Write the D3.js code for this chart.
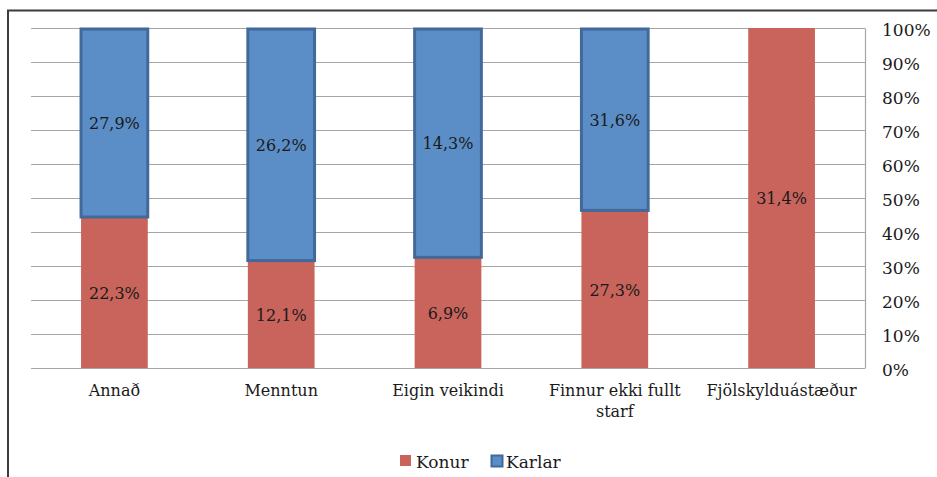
<!DOCTYPE html>
<html>
<head>
<meta charset="utf-8">
<script src="https://cdn.jsdelivr.net/npm/d3@7"></script>
<style>
  body { margin: 0; background: #fff; }
  svg { display: block; font-family: "DejaVu Serif", serif; }
</style>
</head>
<body>
<svg width="937" height="477"></svg>
<script>
// data (labels are the raw percentages, bars are stacked to 100%)
var categories = ["Annað", "Menntun", "Eigin veikindi", "Finnur ekki fullt starf", "Fjölskylduástæður"];
var konur = [22.3, 12.1, 6.9, 27.3, 31.4];
var karlar = [27.9, 26.2, 14.3, 31.6, 0];
var yTicks = [0, 0.1, 0.2, 0.3, 0.4, 0.5, 0.6, 0.7, 0.8, 0.9, 1];

var red = "#c9645c", blue = "#5b8ec6", blueEdge = "#41699a";

var svg = d3.select("svg"),
    margin = {top: 28, right: 72, bottom: 109, left: 31},
    width = +svg.attr("width") - margin.left - margin.right,
    height = +svg.attr("height") - margin.top - margin.bottom;

// outer frame (top and left edges visible)
svg.append("path")
    .attr("d", "M8,477 V10.5 H937")
    .attr("fill", "none")
    .attr("stroke", "#3c3c3c")
    .attr("stroke-width", 2);

var x = d3.scaleBand().domain(categories).range([0, width]).paddingInner(0.6).paddingOuter(0.3),
    y = d3.scaleLinear().domain([0, 1]).range([height, 0]);

var g = svg.append("g")
    .attr("transform", "translate(" + margin.left + "," + margin.top + ")");

// gridlines
g.selectAll(".grid")
    .data(yTicks)
    .enter().append("line")
    .attr("x1", 0).attr("x2", width)
    .attr("y1", function(d) { return Math.round(y(d)) + 0.5; })
    .attr("y2", function(d) { return Math.round(y(d)) + 0.5; })
    .attr("stroke", "#a6a6a6")
    .attr("stroke-width", 1.2);

// right axis
var yAxis = g.append("g")
    .attr("transform", "translate(" + width + ",0)")
    .call(d3.axisRight(y).tickValues(yTicks).tickFormat(d3.format(".0%")).tickSize(0).tickPadding(17));
yAxis.select(".domain").attr("stroke", "#a6a6a6").attr("stroke-width", 1.2);
yAxis.selectAll("text").attr("font-size", 17).attr("fill", "#1a1a1a").attr("font-family", "DejaVu Serif")
    .attr("dy", "0.42em");

// category labels
var xAxis = g.append("g")
    .attr("transform", "translate(0," + height + ")")
    .call(d3.axisBottom(x).tickSize(0).tickPadding(17));
xAxis.select(".domain").remove();
xAxis.selectAll("text")
    .attr("font-size", 16).attr("fill", "#1a1a1a").attr("font-family", "DejaVu Serif")
    .each(function(d) {
        var t = d3.select(this);
        if (d === "Finnur ekki fullt starf") {
            t.text(null);
            t.append("tspan").attr("x", 0).attr("dy", "0.71em").text("Finnur ekki fullt");
            t.append("tspan").attr("x", 0).attr("dy", "1.3em").text("starf");
        }
    });

var rows = categories.map(function(c, i) {
    var tot = konur[i] + karlar[i];
    return {cat: c, k: konur[i], m: karlar[i], kShare: konur[i] / tot};
});

// Konur (bottom)
g.selectAll(".bar-k")
    .data(rows)
    .enter().append("rect")
    .attr("x", function(d) { return x(d.cat); })
    .attr("width", x.bandwidth())
    .attr("y", function(d) { return y(d.kShare); })
    .attr("height", function(d) { return height - y(d.kShare); })
    .attr("fill", red);

// Karlar (top)
g.selectAll(".bar-m")
    .data(rows.filter(function(d) { return d.m > 0; }))
    .enter().append("rect")
    .attr("x", function(d) { return x(d.cat); })
    .attr("width", x.bandwidth())
    .attr("y", y(1) + 1)
    .attr("height", function(d) { return y(d.kShare) - y(1) - 1; })
    .attr("fill", blue)
    .attr("stroke", blueEdge)
    .attr("stroke-width", 3);

// value labels
var fmt = function(v) { return v.toFixed(1).replace(".", ",") + "%"; };
g.selectAll(".lab-k")
    .data(rows)
    .enter().append("text")
    .attr("x", function(d) { return x(d.cat) + x.bandwidth() / 2; })
    .attr("y", function(d) { return y(d.kShare / 2); })
    .attr("dy", "0.4em")
    .attr("text-anchor", "middle")
    .attr("font-size", 16)
    .attr("fill", "#1a1a1a")
    .text(function(d) { return fmt(d.k); });

g.selectAll(".lab-m")
    .data(rows.filter(function(d) { return d.m > 0; }))
    .enter().append("text")
    .attr("x", function(d) { return x(d.cat) + x.bandwidth() / 2; })
    .attr("y", function(d) { return y((1 + d.kShare) / 2); })
    .attr("dy", "0.4em")
    .attr("text-anchor", "middle")
    .attr("font-size", 16)
    .attr("fill", "#1a1a1a")
    .text(function(d) { return fmt(d.m); });

// legend
var legend = svg.append("g").attr("transform", "translate(400,455)");
legend.append("rect").attr("x", 0).attr("y", 0).attr("width", 11).attr("height", 11).attr("fill", red);
legend.append("text").attr("x", 16).attr("y", 6).attr("dy", "0.4em").attr("font-size", 17).attr("fill", "#1a1a1a").text("Konur");
legend.append("rect").attr("x", 91.5).attr("y", 0.5).attr("width", 11).attr("height", 11)
    .attr("fill", blue).attr("stroke", blueEdge).attr("stroke-width", 2);
legend.append("text").attr("x", 106).attr("y", 6).attr("dy", "0.4em").attr("font-size", 17).attr("fill", "#1a1a1a").text("Karlar");
</script>
</body>
</html>
